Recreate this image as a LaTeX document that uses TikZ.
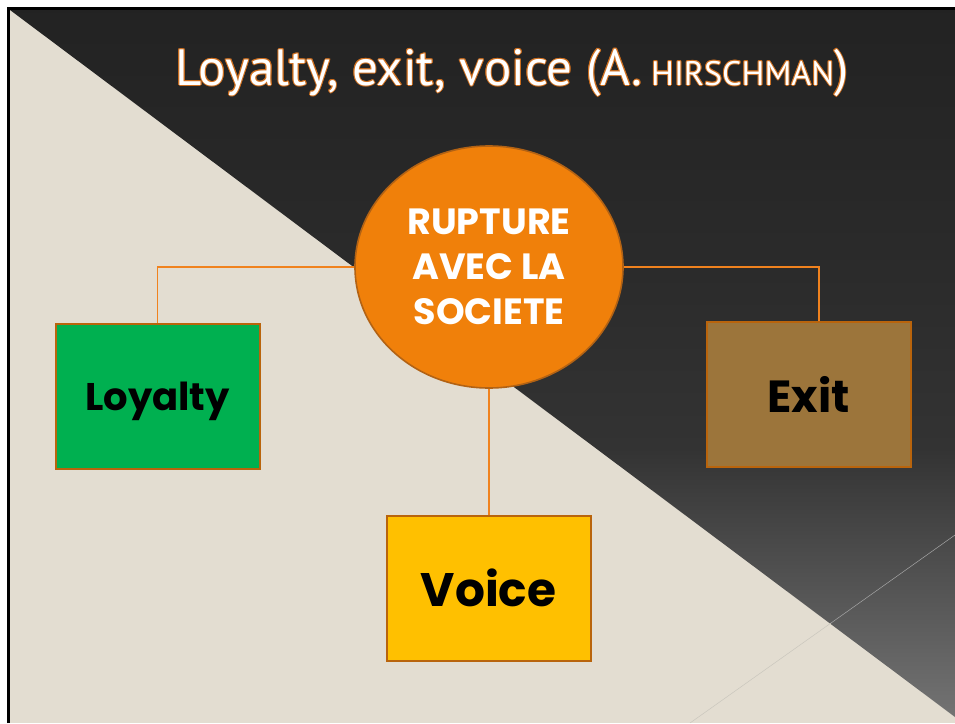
\documentclass[tikz,border=0pt]{standalone}
\usepackage{fontspec}
\setmainfont{Poppins}
\newfontfamily\titlefont{PT Sans}
\usetikzlibrary{shapes.geometric}
\definecolor{beige}{RGB}{227,221,209}
\definecolor{ellfill}{RGB}{240,128,10}
\definecolor{ellborder}{RGB}{178,98,20}
\definecolor{boxborder}{RGB}{185,100,12}
\definecolor{loygreen}{RGB}{0,176,80}
\definecolor{exitbrown}{RGB}{156,117,59}
\definecolor{voiceyellow}{RGB}{255,192,0}
\definecolor{connorange}{RGB}{240,130,30}
\definecolor{titleorange}{RGB}{205,110,30}
\definecolor{gA}{gray}{0.45}
\definecolor{gB}{gray}{0.20}
\definecolor{gC}{gray}{0.165}
\definecolor{gD}{gray}{0.135}
\pgfdeclareverticalshading{darkgrad}{100bp}{color(0bp)=(gA); color(25bp)=(gA); color(44bp)=(gB); color(58bp)=(gC); color(75bp)=(gD); color(100bp)=(gD)}
\newcommand\mytitle{Loyalty, exit, voice (A.\,{\fontsize{34}{40}\selectfont HIRSCHMAN})}
\tikzset{
  titlestyle/.style={font=\titlefont\fontsize{51}{60}\selectfont, anchor=base, inner sep=0pt},
  boxnode/.style={draw=boxborder, line width=2pt, minimum width=204pt, minimum height=145pt, inner sep=0pt, text depth=0pt, text=black},
  conn/.style={color=connorange, line width=1.4pt},
}
\begin{document}
\begin{tikzpicture}[x=1pt,y=-1pt]
\useasboundingbox (0,0) rectangle (955,723);
\fill[white] (0,0) rectangle (955,723);
\fill[beige] (10,10) rectangle (955,723);
\shade[shading=darkgrad] (10,10) -- (955,10) -- (955,717) -- cycle;
% thin diagonal line bottom right
\draw[gray!70!white, line width=0.5pt] (955,535) -- (831,623);
\draw[gray!25!beige, line width=0.5pt] (831,623) -- (690,723);
% frame
\draw[black, line width=3pt] (8.5,723) -- (8.5,8.5) -- (955,8.5);
% title
\coordinate (tpos) at (512,85);
\foreach \dx/\dy in {1/0,-1/0,0/1,0/-1,0.7/0.7,-0.7/0.7,0.7/-0.7,-0.7/-0.7}
  \node[titlestyle, text=titleorange] at ([shift={(\dx,\dy)}]tpos) {\mytitle};
\node[titlestyle, text=white] (title) at (tpos) {\mytitle};
% central ellipse
\node[ellipse, draw=ellborder, line width=1.6pt, fill=ellfill, minimum width=268pt, minimum height=242pt, inner sep=0pt, text=white, align=center, font=\bfseries\fontsize{36.5}{45}\selectfont] (rup) at (489,267) {RUPTURE\\AVEC LA\\SOCIETE};
% boxes
\node[boxnode, fill=loygreen, font=\bfseries\fontsize{38.5}{45}\selectfont] (loy) at (157.5,396) {Loyalty};
\node[boxnode, fill=exitbrown, font=\bfseries\fontsize{45}{50}\selectfont] (exit) at (808.5,394) {Exit};
\node[boxnode, fill=voiceyellow, font=\bfseries\fontsize{47}{50}\selectfont] (voice) at (488.5,588) {Voice};
% connectors
\draw[conn] (rup.west) -| (loy.north);
\draw[conn] (rup.east) -| ([xshift=10.5pt]exit.north);
\draw[conn] (rup.south) -- (rup.south |- voice.north);
\end{tikzpicture}
\end{document}
